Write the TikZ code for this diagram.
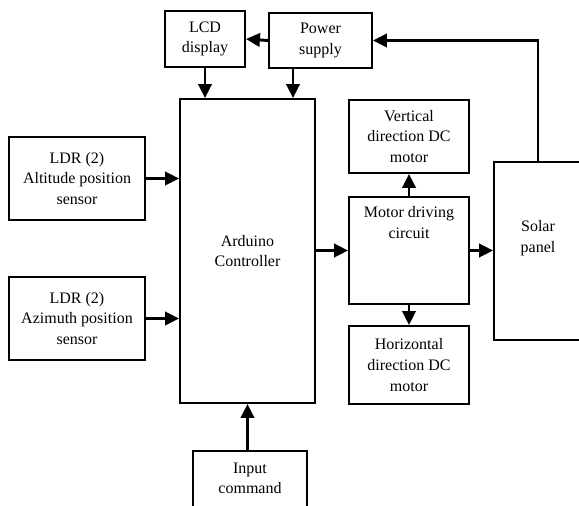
\documentclass[tikz,border=0pt]{standalone}
\usepackage{fontspec}
\setmainfont{Liberation Serif}
\usetikzlibrary{arrows.meta}
\def\u{0.75pt}
\begin{document}
\begin{tikzpicture}[x=0.75pt, y=-0.75pt, line cap=butt, line join=miter,
	font=\fontsize{12}{15.5}\selectfont,
	box/.style={draw, line width=1.4pt, align=center, inner sep=0pt},
	arr/.style={line width=2.2pt, -{Triangle[length=10.5pt, width=10pt]}}]
	\clip (0,0) rectangle (579,506);
	% blocks
	\node[box, minimum width={80*\u}, minimum height={56*\u}] (lcd) at (205,39) {LCD\\display};
	\node[box, minimum width={103*\u}, minimum height={55*\u}] (pwr) at (320.5,40.5) {Power\\supply};
	\node[box, minimum width={136*\u}, minimum height={83*\u}] (ldrA) at (77,178.5) {LDR (2)\\Altitude position\\sensor};
	\node[box, minimum width={136*\u}, minimum height={83*\u}] (ldrB) at (77,318.5) {LDR (2)\\Azimuth position\\sensor};
	\node[box, minimum width={135*\u}, minimum height={304*\u}] (ard) at (247.5,251) {Arduino\\Controller};
	\node[box, minimum width={120*\u}, minimum height={73*\u}] (vert) at (409,136.5) {Vertical\\direction DC\\motor};
	\node[box, minimum width={120*\u}, minimum height={107*\u},
		label={[align=center, anchor=north, yshift={-6*\u}]north:Motor driving\\circuit}] (drv) at (409,250.5) {};
	\node[box, minimum width={120*\u}, minimum height={78*\u}] (horz) at (409,365) {Horizontal\\direction DC\\motor};
	\node[box, minimum width={88*\u}, minimum height={178*\u},
		label={[align=center, yshift={13*\u}]center:Solar\\panel}] (sol) at (538,251) {};
	\node[box, minimum width={114*\u}, minimum height={74*\u},
		label={[align=center, anchor=north, yshift={-8*\u}]north:Input\\command}] (inp) at (250,488) {};
	% connections
	\coordinate (ps) at ([xshift={-27.5*\u}]pwr.south);
	\draw[arr] (pwr.west) -- (lcd.east);
	\draw[arr] (lcd.south) -- (lcd.south |- ard.north);
	\draw[arr] (ps) -- (ps |- ard.north);
	\draw[arr] (ldrA.east) -- (ldrA.east -| ard.west);
	\draw[arr] (ldrB.east) -- (ldrB.east -| ard.west);
	\draw[arr] (ard.east |- drv.west) -- (drv.west);
	\draw[arr] (drv.north) -- (vert.south);
	\draw[arr] (drv.south) -- (horz.north);
	\draw[arr] (drv.east) -- (drv.east -| sol.west);
	\draw[arr] (sol.north) |- (pwr.east);
	\draw[arr] (inp.north -| ard.south) -- (ard.south);
\end{tikzpicture}
\end{document}
